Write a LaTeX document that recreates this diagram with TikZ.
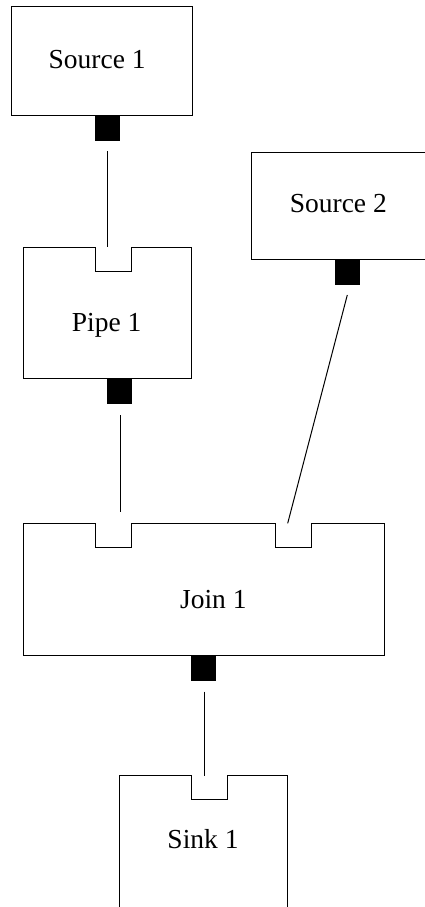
\documentclass[tikz,border=0pt]{standalone}
\usepackage{fontspec}
\setmainfont{Liberation Serif}
\begin{document}
\begin{tikzpicture}[x=1pt,y=-1pt,line width=1pt,
  block/.style={draw=black,line width=1pt},
  label/.style={font=\fontsize{27.5}{30}\selectfont,anchor=base,inner sep=0pt},
  outport/.style={fill=black,draw=none,minimum width=25pt,minimum height=25pt,inner sep=0pt,anchor=north},
  wire/.style={draw=black,line width=1pt}]
\useasboundingbox (0,0) rectangle (425,907);

% Source 1
\draw[block] (11,7) rectangle (192,115);
\node[label] (s1txt) at (97.2,69) {Source 1};
\node[outport] (s1out) at (107.5,115) {};

% Source 2 (runs off the right edge)
\draw[block] (428,152) -- (251.7,152) -- (251.7,259) -- (428,259);
\node[label] (s2txt) at (338.3,212.7) {Source 2};
\node[outport] (s2out) at (347.5,259) {};

% Pipe 1 with one input notch
\draw[block] (23.3,247.3) -- (95.7,247.3) -- (95.7,271.7) -- (131.7,271.7)
  -- (131.7,247.3) -- (191.7,247.3) -- (191.7,378.3) -- (23.3,378.3) -- cycle;
\node[label] (p1txt) at (106.7,331.7) {Pipe 1};
\node[outport] (p1out) at (119.8,378.3) {};

% Join 1 with two input notches
\draw[block] (23.3,523.3) -- (95.7,523.3) -- (95.7,547.3) -- (131.7,547.3)
  -- (131.7,523.3) -- (275.7,523.3) -- (275.7,547.3) -- (311.7,547.3)
  -- (311.7,523.3) -- (384,523.3) -- (384,655.3) -- (23.3,655.3) -- cycle;
\node[label] (j1txt) at (213.3,608) {Join 1};
\node[outport] (j1out) at (203.8,655.3) {};

% Sink 1 (runs off the bottom edge)
\draw[block] (119.3,910) -- (119.3,775.7) -- (191.7,775.7) -- (191.7,799)
  -- (227.3,799) -- (227.3,775.7) -- (287.3,775.7) -- (287.3,910);
\node[label] (k1txt) at (203,848.3) {Sink 1};

% connector end points
\coordinate (s1a) at (107.5,151);
\coordinate (p1in) at (107.5,247.3);
\coordinate (p1a) at (120,415);
\coordinate (j1inA) at (120,512);
\coordinate (s2a) at (347.3,295);
\coordinate (j1inB) at (287.7,523.3);
\coordinate (j1a) at (204,691.7);
\coordinate (k1in) at (204,775.7);

\draw[wire] (s1a) -- (p1in);
\draw[wire] (p1a) -- (j1inA);
\draw[wire] (s2a) -- (j1inB);
\draw[wire] (j1a) -- (k1in);
\end{tikzpicture}
\end{document}
